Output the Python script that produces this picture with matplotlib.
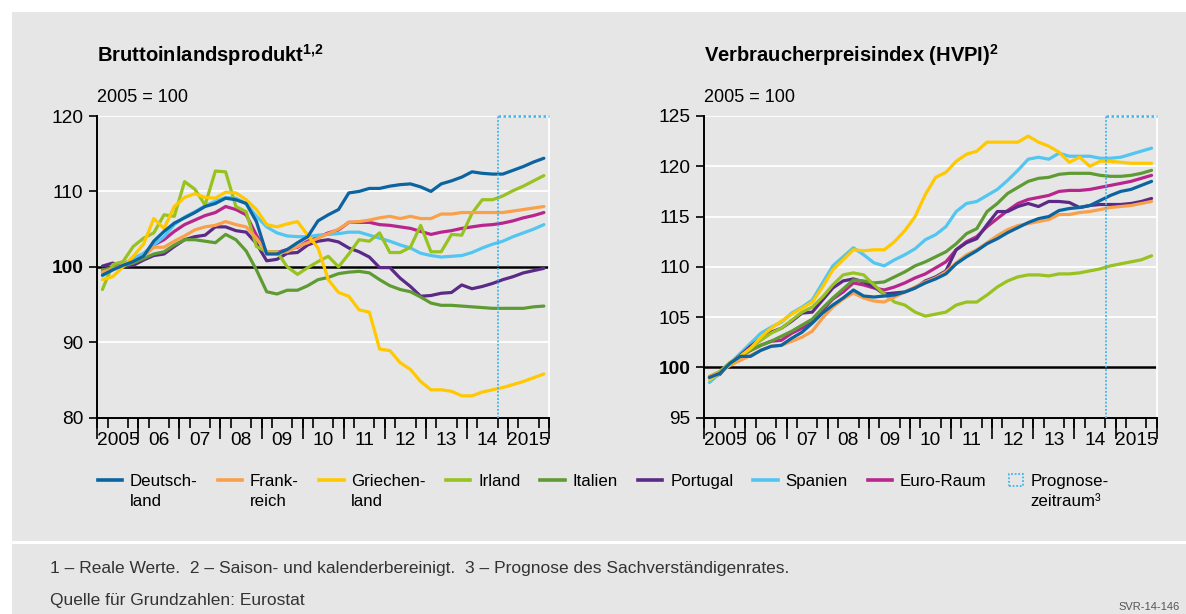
import matplotlib.pyplot as plt
import numpy as np
from matplotlib.patches import Rectangle
from matplotlib.lines import Line2D

plt.rcParams['font.family'] = ['Liberation Sans', 'DejaVu Sans']
plt.rcParams['mathtext.fontset'] = 'custom'
plt.rcParams['mathtext.rm'] = 'Liberation Sans'
plt.rcParams['mathtext.it'] = 'Liberation Sans'
plt.rcParams['mathtext.bf'] = 'Liberation Sans:bold'
plt.rcParams['mathtext.default'] = 'regular'

# Quarterly values 2005Q1 .. 2015Q4, index 2005 = 100
quarters = 2005 + (np.arange(44) + 0.5) / 4
forecast_start = 2014.77

countries = ['Deutsch-\nland', 'Frank-\nreich', 'Griechen-\nland', 'Irland', 'Italien',
             'Portugal', 'Spanien', 'Euro-Raum']
colors = ['#0b64a0', '#f9a04b', '#ffc800', '#97c21f', '#5f9b34', '#5b2a86', '#52c5f1', '#b8258c']

# Bruttoinlandsprodukt (real, saison- und kalenderbereinigt)
bip_de = [98.9, 99.6, 100.2, 100.7, 101.4, 103.4, 104.7, 105.8, 106.5, 107.2,
          108.0, 108.4, 109.1, 108.9, 108.4, 106.0, 101.7, 101.7, 102.3, 103.2,
          104.0, 106.1, 106.9, 107.6, 109.8, 110.0, 110.4, 110.4, 110.7, 110.9,
          111.0, 110.6, 110.0, 111.0, 111.4, 111.9, 112.6, 112.4, 112.3, 112.3,
          112.8, 113.3, 113.9, 114.4]
bip_fr = [99.3, 99.7, 100.3, 100.7, 101.4, 102.6, 102.6, 103.4, 104.1, 104.9,
          105.3, 105.5, 106.0, 105.6, 105.3, 103.8, 102.0, 101.9, 102.0, 102.7,
          103.2, 103.8, 104.4, 105.0, 105.9, 106.0, 106.2, 106.5, 106.7, 106.4,
          106.7, 106.4, 106.4, 107.0, 107.0, 107.2, 107.2, 107.2, 107.2, 107.2,
          107.4, 107.6, 107.8, 108.0]
bip_gr = [98.3, 98.7, 100.0, 101.4, 103.0, 106.4, 105.1, 108.0, 109.2, 109.7,
          109.2, 109.1, 109.9, 109.8, 108.9, 107.6, 105.6, 105.3, 105.7, 106.0,
          104.2, 102.5, 98.3, 96.6, 96.1, 94.3, 94.0, 89.1, 88.9, 87.3,
          86.4, 84.8, 83.7, 83.7, 83.5, 82.9, 82.9, 83.4, 83.7, 84.0,
          84.4, 84.8, 85.3, 85.8]
bip_ie = [97.0, 100.3, 100.7, 102.7, 103.8, 104.5, 106.9, 106.7, 111.3, 110.3,
          108.2, 112.7, 112.6, 108.0, 107.3, 102.7, 102.0, 102.0, 100.0, 99.0,
          99.9, 100.7, 101.4, 100.0, 101.7, 103.6, 103.4, 104.5, 101.9, 101.9,
          102.6, 105.5, 102.0, 102.0, 104.3, 104.2, 107.1, 108.9, 108.9, 109.4,
          110.1, 110.7, 111.4, 112.1]
bip_it = [99.6, 99.9, 100.1, 100.5, 101.1, 101.7, 102.0, 102.9, 103.6, 103.6,
          103.4, 103.2, 104.3, 103.6, 102.1, 99.6, 96.7, 96.4, 96.9, 96.9,
          97.5, 98.3, 98.6, 99.1, 99.3, 99.4, 99.2, 98.3, 97.5, 97.0,
          96.7, 96.0, 95.2, 94.9, 94.9, 94.8, 94.7, 94.6, 94.5, 94.5,
          94.5, 94.5, 94.7, 94.8]
bip_pt = [100.1, 100.5, 100.0, 100.2, 100.9, 101.5, 101.7, 102.7, 103.6, 104.0,
          104.2, 105.3, 105.3, 104.8, 104.6, 103.1, 100.8, 101.0, 101.8, 101.9,
          102.9, 103.4, 103.6, 103.3, 102.5, 102.0, 101.3, 99.9, 99.9, 98.5,
          97.4, 96.1, 96.2, 96.5, 96.6, 97.6, 97.1, 97.4, 97.8, 98.3,
          98.7, 99.2, 99.5, 99.8]
bip_es = [98.8, 99.6, 100.3, 101.1, 101.8, 102.9, 104.0, 105.6, 106.6, 107.3,
          108.1, 108.7, 109.2, 109.1, 108.4, 106.7, 105.3, 104.5, 104.1, 104.0,
          104.0, 104.2, 104.3, 104.4, 104.6, 104.6, 104.2, 103.8, 103.4, 102.9,
          102.5, 101.8, 101.5, 101.3, 101.4, 101.5, 101.9, 102.5, 103.0, 103.4,
          104.0, 104.5, 105.0, 105.6]
bip_ea = [99.3, 99.8, 100.4, 101.0, 101.7, 102.9, 103.6, 104.7, 105.6, 106.2,
          106.8, 107.2, 108.0, 107.6, 106.9, 104.2, 101.9, 101.9, 102.3, 102.6,
          103.4, 103.9, 104.5, 104.9, 105.9, 105.9, 105.9, 105.6, 105.5, 105.3,
          105.1, 104.7, 104.3, 104.6, 104.8, 105.1, 105.3, 105.5, 105.6, 105.8,
          106.1, 106.5, 106.8, 107.2]

# Harmonisierter Verbraucherpreisindex
hvpi_de = [99.0, 99.4, 100.4, 101.1, 101.1, 101.7, 102.1, 102.2, 102.9, 103.5,
           104.4, 105.4, 106.2, 106.9, 107.7, 107.1, 107.0, 107.1, 107.2, 107.5,
           107.9, 108.4, 108.8, 109.3, 110.3, 111.0, 111.6, 112.3, 112.8, 113.4,
           113.9, 114.4, 114.8, 115.0, 115.6, 115.8, 115.9, 116.1, 116.6, 117.1,
           117.5, 117.7, 118.1, 118.5]
hvpi_fr = [99.1, 99.5, 100.2, 100.7, 101.2, 101.7, 102.1, 102.2, 102.6, 103.0,
           103.6, 104.9, 106.0, 106.8, 107.4, 106.9, 106.6, 106.5, 107.0, 107.5,
           108.0, 108.5, 108.9, 109.5, 110.4, 111.2, 111.7, 112.4, 113.1, 113.7,
           114.1, 114.3, 114.5, 114.7, 115.2, 115.2, 115.4, 115.5, 115.7, 115.9,
           116.0, 116.1, 116.3, 116.5]
hvpi_gr = [98.8, 99.4, 100.3, 101.1, 101.9, 103.0, 103.9, 104.6, 105.3, 105.9,
           106.5, 108.0, 109.7, 110.7, 111.7, 111.6, 111.7, 111.7, 112.5, 113.6,
           115.0, 117.2, 118.9, 119.4, 120.5, 121.2, 121.5, 122.4, 122.4, 122.4,
           122.4, 123.0, 122.4, 122.0, 121.4, 120.4, 120.9, 120.0, 120.5, 120.5,
           120.4, 120.3, 120.3, 120.3]
hvpi_ie = [99.1, 99.6, 100.5, 101.1, 101.9, 102.7, 103.4, 103.9, 104.7, 105.5,
           106.0, 107.0, 108.2, 109.2, 109.4, 109.2, 108.2, 107.3, 106.5, 106.2,
           105.5, 105.1, 105.3, 105.5, 106.2, 106.5, 106.5, 107.2, 108.0, 108.6,
           109.0, 109.2, 109.2, 109.1, 109.3, 109.3, 109.4, 109.6, 109.8, 110.1,
           110.3, 110.5, 110.7, 111.1]
hvpi_it = [98.9, 99.4, 100.4, 101.1, 101.7, 102.2, 102.6, 103.1, 103.6, 104.2,
           104.8, 105.9, 106.9, 107.8, 108.7, 108.6, 108.4, 108.5, 109.0, 109.5,
           110.1, 110.5, 111.0, 111.5, 112.3, 113.3, 113.8, 115.5, 116.3, 117.3,
           117.9, 118.5, 118.8, 118.9, 119.2, 119.3, 119.3, 119.3, 119.1, 119.0,
           119.0, 119.1, 119.3, 119.6]
hvpi_pt = [99.1, 99.3, 100.4, 101.2, 102.1, 102.9, 103.5, 103.9, 104.6, 105.4,
           105.5, 106.7, 107.9, 108.6, 108.8, 108.5, 108.0, 107.3, 107.4, 107.5,
           107.9, 108.6, 109.0, 109.6, 111.7, 112.4, 112.8, 114.2, 115.5, 115.5,
           116.0, 116.3, 116.0, 116.5, 116.5, 116.4, 115.9, 116.1, 116.2, 116.2,
           116.2, 116.3, 116.5, 116.8]
hvpi_es = [98.5, 99.4, 100.4, 101.4, 102.4, 103.4, 104.0, 104.5, 105.4, 106.0,
           106.7, 108.4, 110.1, 111.0, 111.9, 111.2, 110.4, 110.1, 110.7, 111.2,
           111.8, 112.7, 113.2, 114.0, 115.5, 116.3, 116.5, 117.1, 117.7, 118.6,
           119.6, 120.7, 120.9, 120.7, 121.3, 121.0, 121.0, 121.0, 120.8, 120.8,
           120.9, 121.2, 121.5, 121.8]
hvpi_ea = [99.0, 99.4, 100.4, 101.1, 101.7, 102.2, 102.6, 102.7, 103.4, 103.9,
           104.5, 105.7, 106.8, 107.5, 108.4, 108.2, 107.9, 107.7, 108.0, 108.4,
           108.9, 109.3, 109.9, 110.5, 111.7, 112.5, 113.0, 114.0, 114.8, 115.6,
           116.3, 116.7, 116.9, 117.1, 117.5, 117.6, 117.6, 117.7, 117.9, 118.1,
           118.3, 118.5, 118.8, 119.1]

bip = [bip_de, bip_fr, bip_gr, bip_ie, bip_it, bip_pt, bip_es, bip_ea]
hvpi = [hvpi_de, hvpi_fr, hvpi_gr, hvpi_ie, hvpi_it, hvpi_pt, hvpi_es, hvpi_ea]
draw_order = [7, 6, 5, 4, 3, 1, 2, 0]

year_labels = ['2005', '06', '07', '08', '09', '10', '11', '12', '13', '14', '2015']

BG = '#e6e6e6'
FC_BLUE = '#3db7ec'
W, H = 1186, 614

fig = plt.figure(figsize=(W / 100, H / 100), dpi=100)
fig.patch.set_facecolor('white')
fig.add_artist(Rectangle((12 / W, 1 - 541 / H), 1, (541 - 12) / H, transform=fig.transFigure,
                         facecolor=BG, edgecolor='none', zorder=-5))
fig.add_artist(Rectangle((12 / W, 0), 1, (614 - 544) / H, transform=fig.transFigure,
                         facecolor=BG, edgecolor='none', zorder=-5))


def panel(rect, data, ylim, yticks, title):
    ax = fig.add_axes(rect)
    ax.set_facecolor(BG)
    ax.set_xlim(2005, 2016)
    ax.set_ylim(*ylim)
    ax.set_yticks(yticks)
    ax.grid(axis='y', color='white', lw=1.3, zorder=0)
    ax.set_axisbelow(True)
    ax.axhline(100, color='black', lw=1.8, zorder=2)
    for i in draw_order:
        ax.plot(quarters, data[i], color=colors[i], lw=2.3, zorder=3,
                solid_joinstyle='round', solid_capstyle='round')

    # forecast period marker
    ax.axvline(forecast_start, color=FC_BLUE, lw=1.3, ls=(0, (1, 1)), zorder=4)
    ax.hlines(ylim[1], forecast_start, 2016, color=FC_BLUE, lw=1.8, ls=(0, (1, 1)),
              zorder=4, clip_on=False)

    ax.spines['top'].set_visible(False)
    ax.spines['right'].set_color('white')
    ax.spines['right'].set_linewidth(1.3)
    ax.spines['left'].set_linewidth(1.4)
    ax.spines['bottom'].set_linewidth(1.4)

    ax.tick_params(axis='y', direction='out', length=6, width=1.2, labelsize=13.8, pad=4)
    for lab in ax.get_yticklabels():
        if lab.get_text() == '100':
            lab.set_fontweight('bold')

    # year labels in the middle of each year, quarter ticks below the axis
    ax.set_xticks(np.arange(2005, 2016) + 0.5, year_labels)
    ax.set_xticks(np.arange(2005, 2016.01, 0.25), minor=True)
    ax.tick_params(axis='x', which='major', length=0, labelsize=13.8, pad=10)
    ax.tick_params(axis='x', which='minor', direction='out', length=7, width=1.2)
    sec = ax.secondary_xaxis('bottom')
    sec.set_xticks(np.arange(2005, 2017))
    sec.tick_params(axis='x', length=15, width=1.2, labelbottom=False)
    sec.spines['bottom'].set_linewidth(1.4)

    x0 = rect[0]
    fig.text(x0, 1 - 62 / H, title, fontsize=14.5, fontweight='bold', va='baseline')
    fig.text(x0, 1 - 102 / H, '2005 = 100', fontsize=13, va='baseline')
    return ax


panel([97.3 / W, 1 - 417.7 / H, 451.7 / W, 301.7 / H], bip, (80, 120), [80, 90, 100, 110, 120],
      'Bruttoinlandsprodukt$^{1{,}2}$')
panel([704.3 / W, 1 - 417.7 / H, 452.4 / W, 301.7 / H], hvpi, (95, 125),
      [95, 100, 105, 110, 115, 120, 125], 'Verbraucherpreisindex (HVPI)$^{2}$')

# legend row below both panels
renderer = fig.canvas.get_renderer()
x = 97.7
y1, y2 = 1 - 486 / H, 1 - 506 / H
handle_y = 1 - 480 / H
for label, color in zip(countries, colors):
    fig.add_artist(Line2D([x / W, (x + 24.6) / W], [handle_y, handle_y], color=color, lw=2.6,
                          transform=fig.transFigure))
    tx = x + 32.3
    widths = []
    for line, yy in zip(label.split('\n'), [y1, y2]):
        t = fig.text(tx / W, yy, line, fontsize=12.2, va='baseline')
        widths.append(t.get_window_extent(renderer).width)
    x = tx + max(widths) + 20

fig.add_artist(Rectangle(((x + 2) / W, 1 - 486 / H), 14 / W, 12 / H, transform=fig.transFigure,
                         facecolor='none', edgecolor=FC_BLUE, lw=1.3, ls=(0, (1, 1))))
fig.text((x + 24) / W, y1, 'Prognose-', fontsize=12.2, va='baseline')
fig.text((x + 24) / W, y2, 'zeitraum³', fontsize=12.2, va='baseline')

# footnotes
fig.text(50 / W, 1 - 569 / H,
         '1 – Reale Werte.  2 – Saison- und kalenderbereinigt.  3 – Prognose des Sachverständigenrates.',
         fontsize=12.5, color='#333333', va='center')
fig.text(50 / W, 1 - 600 / H, 'Quelle für Grundzahlen: Eurostat', fontsize=12.5, color='#333333',
         va='center')
fig.text(1180 / W, 1 - 607 / H, 'SVR-14-146', fontsize=8, color='#555555', va='center', ha='right')

fig.savefig('out.png', dpi=100, facecolor=fig.get_facecolor())
